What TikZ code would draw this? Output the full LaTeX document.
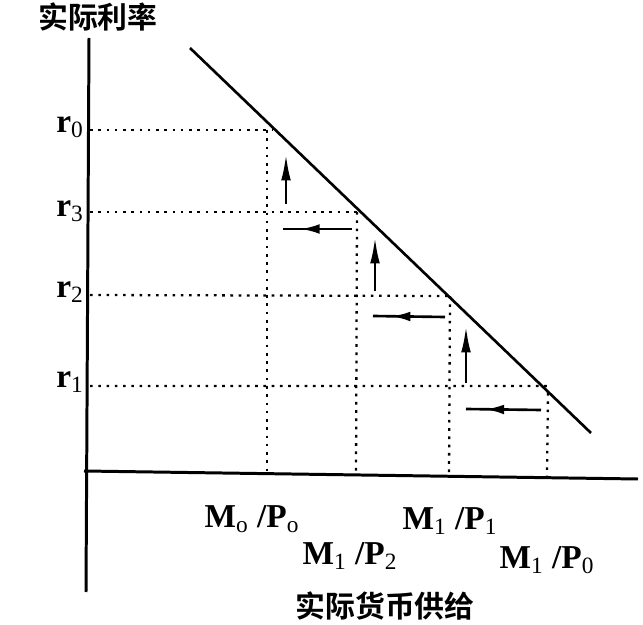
\documentclass[tikz,border=0pt]{standalone}
\usepackage{fontspec}
\setmainfont{Liberation Serif}
\newfontfamily\cjk{Noto Sans CJK SC}[BoldFont={Noto Sans CJK SC Bold}]
\usetikzlibrary{arrows.meta,calc,decorations.markings,positioning}
\definecolor{Ink}{HTML}{000000}
\tikzset{
  axisline/.style={draw=Ink,line width=1.7pt},
  curveline/.style={draw=Ink,line width=1.5pt},
  gridline/.style={draw=Ink,line width=1.3pt,dash pattern=on 1.5pt off 3.2pt},
  uparrow/.style={draw=Ink,line width=1.5pt,-{Latex[length=15pt,width=5.5pt]}},
  midarrow/.style={draw=Ink,line width=1.5pt,postaction={decorate},
    decoration={markings,mark=at position #1 with {\arrow{Latex[length=11pt,width=5.5pt]}}}},
  midarrow/.default=0.75,
  ratelabel/.style={font=\fontsize{19}{21}\selectfont\bfseries,inner sep=1pt},
  qtylabel/.style={font=\fontsize{19}{21}\selectfont\bfseries,inner sep=1pt},
  axistitle/.style={font=\cjk\fontsize{17}{20}\selectfont\bfseries,inner sep=1pt}
}
\newcommand{\sub}[1]{\textsubscript{\mdseries #1}}
\begin{document}
\begin{tikzpicture}[x=0.02cm,y=-0.02cm]
  \useasboundingbox (0,0) rectangle (643,625);
  % axes
  \coordinate (ytop) at (89,38);
  \coordinate (ybot) at (86,592);
  \coordinate (xleft) at (84,471);
  \coordinate (xright) at (638,479);
  \draw[axisline] (ybot) -- (ytop);
  \draw[axisline] (xleft) -- (xright);
  % money demand line
  \coordinate (dtop) at (190,48);
  \coordinate (dbot) at (591,433);
  \draw[curveline] (dtop) -- (dbot);
  % points on the line
  \coordinate (p0) at (272,130);
  \coordinate (p3) at (357,212);
  \coordinate (p2) at (450,296);
  \coordinate (p1) at (548,393);
  % horizontal guides
  \draw[gridline] (90,130) -- (p0);
  \draw[gridline] (90,212) -- (p3);
  \draw[gridline] (90,295) -- (p2);
  \draw[gridline] (90,386) -- (547,386) -- (p1);
  % vertical guides
  \draw[gridline] (267,130) -- (267,473);
  \draw[gridline] (p3) -- (356,474);
  \draw[gridline] (p2) -- (449,475);
  \draw[gridline] (p1) -- (547,476);
  % adjustment arrows
  \coordinate (a1s) at (286,204); \coordinate (a1e) at (286,154);
  \coordinate (b1s) at (352,229); \coordinate (b1e) at (283,229);
  \coordinate (a2s) at (375,291); \coordinate (a2e) at (375,237);
  \coordinate (b2s) at (445,317); \coordinate (b2e) at (373,316);
  \coordinate (a3s) at (466,383); \coordinate (a3e) at (466,326);
  \coordinate (b3s) at (541,410); \coordinate (b3e) at (466,409);
  \draw[uparrow] (a1s) -- (a1e);
  \draw[midarrow] (b1s) -- (b1e);
  \draw[uparrow] (a2s) -- (a2e);
  \draw[midarrow] (b2s) -- (b2e);
  \draw[uparrow] (a3s) -- (a3e);
  \draw[midarrow] (b3s) -- (b3e);
  % labels
  \node[axistitle] (ytitle) at (98,17) {实际利率};
  \node[axistitle] (xtitle) at (385,606) {实际货币供给};
  \node[ratelabel] (r0) at (70,127) {r\sub{0}};
  \node[ratelabel] (r3) at (70,211) {r\sub{3}};
  \node[ratelabel] (r2) at (70,292) {r\sub{2}};
  \node[ratelabel] (r1) at (70,382) {r\sub{1}};
  \node[qtylabel] (m0p0) at (252,519) {M\sub{o} /P\sub{o}};
  \node[qtylabel] (m1p1) at (450,521) {M\sub{1} /P\sub{1}};
  \node[qtylabel] (m1p2) at (350,556) {M\sub{1} /P\sub{2}};
  \node[qtylabel] (m1p0) at (547,560) {M\sub{1} /P\sub{0}};
\end{tikzpicture}
\end{document}
